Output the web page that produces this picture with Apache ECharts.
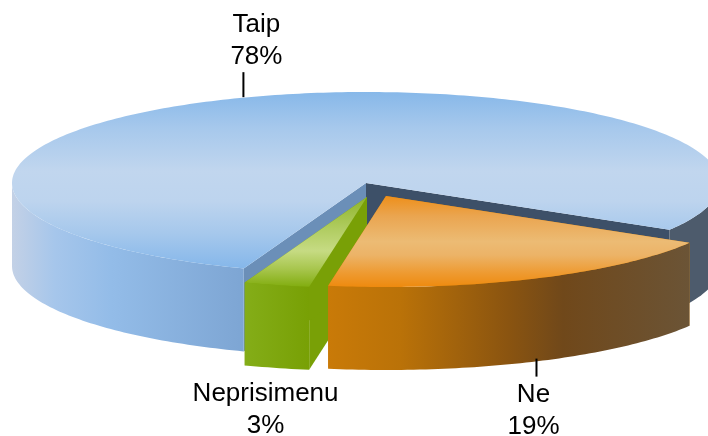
<!DOCTYPE html>
<html>
<head>
<meta charset="utf-8">
<style>html,body{margin:0;padding:0;background:#fff}#c{width:708px;height:436px}</style>
<script src="https://cdn.jsdelivr.net/npm/echarts@6/dist/echarts.min.js"></script>
</head>
<body>
<div id="c"></div>
<script>
// ---- data ----
const categories = ['Taip', 'Ne', 'Neprisimenu'];
const shares = [78, 19, 3];

// ---- geometry of the projected pie ----
const center = [366, 183], rx = 354, ry = 91, depth = 83, firstAngle = 110.2;
const explode = [[0, 0], [20, 13], [1, 14]];
const layers = [0, 2, 1];

// ---- styling ----
const vstops = arr => arr.map(([offset, color]) => ({ offset, color }));
const topStops = [
  vstops([[0, '#87b8e9'], [0.2, '#a6c8ec'], [0.45, '#c1d6ee'], [0.62, '#bdd4ee'], [0.8, '#a6c8ec'], [1, '#85b7ea']]),
  vstops([[0, '#ee8f1a'], [0.22, '#eaa550'], [0.5, '#ecbb74'], [0.65, '#ecb367'], [0.85, '#ee9a30'], [1, '#ee8a0e']]),
  vstops([[0, '#8fb52a'], [0.35, '#b0cc60'], [0.6, '#c6db83'], [0.8, '#a8c64e'], [1, '#82ad10']])
];
const wallStops = [
  vstops([[0, '#c3d1e6'], [0.06, '#a6c6eb'], [0.14, '#93bce8'], [0.33, '#7da5d3'], [0.4, '#7da5d3'], [0.93, '#4d5b6c'], [1, '#4d5b6c']]),
  vstops([[0, '#c97a08'], [0.2, '#ba7208'], [0.5, '#8a5410'], [0.65, '#70481a'], [1, '#6b5436']]),
  vstops([[0, '#84ad18'], [1, '#78a005']])
];
const innerWalls = [['#6b8fb8', '#3d5068'], ['#c97a08', '#c97a08'], ['#79a006', '#79a006']];
const labelOffsets = [[8, -56], [-1, 49], [-11, 42]];
const leaders = [{ dx: -5, y1: -25, y2: 0 }, { dx: 2, y1: -3, y2: 15 }, null];
const labelFont = '26px "Liberation Sans", sans-serif';

const total = shares.reduce((a, b) => a + b, 0);
const rad = d => d * Math.PI / 180;

function sliceAngles(index) {
  let start = firstAngle;
  for (let i = 0; i < index; i++) start += shares[i] / total * 360;
  return [start, start + shares[index] / total * 360];
}
function rimArc(cx, cy, a0, a1, dy) {
  const pts = [], n = Math.max(2, Math.ceil((a1 - a0) / 1));
  for (let i = 0; i <= n; i++) {
    const a = rad(a0 + (a1 - a0) * i / n);
    pts.push([cx + rx * Math.cos(a), cy + ry * Math.sin(a) + (dy || 0)]);
  }
  return pts;
}
// the front half of the rim (0..180 and 360..540 degrees) carries the outer wall
function frontSpans(a0, a1) {
  const spans = [];
  [[0, 180], [360, 540]].forEach(([l, h]) => {
    const s = Math.max(a0, l), e = Math.min(a1, h);
    if (e > s) spans.push([s, e]);
  });
  return spans;
}

function renderItem(params, api) {
  const i = params.dataIndex;
  const [a0, a1] = sliceAngles(i);
  const cx = center[0] + explode[i][0], cy = center[1] + explode[i][1];
  const z = layers[i] * 10;
  const children = [];

  // inner cut walls
  [a0, a1].forEach((a, k) => {
    const x = cx + rx * Math.cos(rad(a)), y = cy + ry * Math.sin(rad(a));
    children.push({
      type: 'polygon', z2: z,
      shape: { points: [[cx, cy], [x, y], [x, y + depth], [cx, cy + depth]] },
      style: { fill: innerWalls[i][k] }
    });
  });

  // outer wall
  const spans = frontSpans(a0, a1);
  let minX = Infinity, maxX = -Infinity;
  const wallPolys = spans.map(([s, e]) => {
    const upper = rimArc(cx, cy, s, e, 0), lower = rimArc(cx, cy, s, e, depth).reverse();
    upper.forEach(p => { minX = Math.min(minX, p[0]); maxX = Math.max(maxX, p[0]); });
    return upper.concat(lower);
  });
  const wallFill = { type: 'linear', x: minX, y: 0, x2: maxX, y2: 0, colorStops: wallStops[i], global: true };
  wallPolys.forEach(points => children.push({
    type: 'polygon', z2: z + 1, shape: { points }, style: { fill: wallFill }
  }));

  // top surface
  children.push({
    type: 'polygon', z2: z + 2,
    shape: { points: [[cx, cy]].concat(rimArc(cx, cy, a0, a1, 0)) },
    style: { fill: { type: 'linear', x: 0, y: 0, x2: 0, y2: 1, colorStops: topStops[i] } }
  });

  // label and leader anchored on the rim at the slice's middle angle
  const mid = rad((a0 + a1) / 2), front = Math.sin(mid) > 0;
  const ax = cx + rx * Math.cos(mid), ay = cy + ry * Math.sin(mid) + (front ? depth : 0);
  children.push({
    type: 'text', z2: 50,
    style: {
      text: categories[i] + '\n' + api.value(0) + '%',
      x: ax + labelOffsets[i][0], y: ay + labelOffsets[i][1],
      align: 'center', verticalAlign: 'middle',
      font: labelFont, lineHeight: 32, fill: '#000'
    }
  });
  if (leaders[i]) {
    const lx = ax + leaders[i].dx;
    children.push({
      type: 'line', z2: 40,
      shape: { x1: lx, y1: ay + leaders[i].y1, x2: lx, y2: ay + leaders[i].y2 },
      style: { stroke: '#000', lineWidth: 2 }
    });
  }
  return { type: 'group', children };
}

const chart = echarts.init(document.getElementById('c'), null, { width: 708, height: 436 });
chart.setOption({
  animation: false,
  backgroundColor: '#fff',
  series: [{
    type: 'custom',
    coordinateSystem: 'none',
    renderItem,
    silent: true,
    clip: false,
    data: shares.map((v, i) => ({ name: categories[i], value: [v] }))
  }]
});
</script>
</body>
</html>
